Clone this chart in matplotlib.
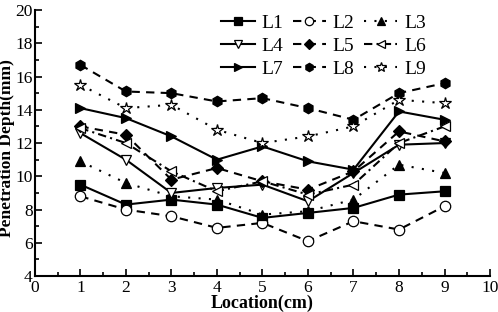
import matplotlib
matplotlib.use("Agg")
import matplotlib.pyplot as plt
from matplotlib.ticker import MultipleLocator

plt.rcParams["font.family"] = ["Liberation Serif", "DejaVu Serif"]

location = [1, 2, 3, 4, 5, 6, 7, 8, 9]

L1 = [9.5, 8.3, 8.6, 8.3, 7.5, 7.8, 8.1, 8.9, 9.1]
L2 = [8.8, 8.0, 7.6, 6.9, 7.2, 6.1, 7.3, 6.8, 8.2]
L3 = [10.9, 9.6, 8.8, 8.6, 7.7, 7.9, 8.6, 10.7, 10.2]
L4 = [12.6, 11.0, 9.0, 9.3, 9.5, 8.5, 10.2, 11.9, 12.0]
L5 = [13.0, 12.5, 9.8, 10.5, 9.7, 9.2, 10.3, 12.7, 12.1]
L6 = [12.9, 12.0, 10.3, 9.1, 9.7, 8.9, 9.5, 12.0, 13.0]
L7 = [14.1, 13.5, 12.4, 11.0, 11.8, 10.9, 10.4, 13.9, 13.4]
L8 = [16.7, 15.1, 15.0, 14.5, 14.7, 14.1, 13.4, 15.0, 15.6]
L9 = [15.5, 14.1, 14.3, 12.8, 12.0, 12.4, 13.0, 14.6, 14.4]

labels = ["L1", "L2", "L3", "L4", "L5", "L6", "L7", "L8", "L9"]
series = [L1, L2, L3, L4, L5, L6, L7, L8, L9]

# (linestyle, marker, filled)
styles = [
    ("-", "s", True),
    ((0, (4, 3)), "o", False),
    ((0, (1, 4)), "^", True),
    ("-", "v", False),
    ((0, (4, 3)), "D", True),
    ((0, (4, 2, 1, 2)), "<", False),
    ("-", ">", True),
    ((0, (4, 3)), "h", True),
    ((0, (1, 4)), "*", False),
]

fig = plt.figure(figsize=(4.98, 3.12), dpi=100)
ax = fig.add_axes([0.070, 0.115, 0.914, 0.853])

handles = {}
for lab, ys, (ls, mk, filled) in zip(labels, series, styles):
    ms = 9 if mk == "*" else (6 if mk == "D" else 7.5)
    h, = ax.plot(location, ys, linestyle=ls, color="black", lw=1.5,
                 marker=mk, markersize=ms,
                 markerfacecolor="black" if filled else "white",
                 markeredgecolor="black", markeredgewidth=0.9)
    handles[lab] = h

# legend fills column-wise, so reorder to get L1 L2 L3 across the first row
order = ["L1", "L4", "L7", "L2", "L5", "L8", "L3", "L6", "L9"]
ax.legend([handles[k] for k in order], order, ncol=3, frameon=False,
          loc="upper left", bbox_to_anchor=(0.41, 0.985), fontsize=14,
          markerscale=0.8, handlelength=1.7, handletextpad=0.35,
          columnspacing=0.5, labelspacing=0.28, borderpad=0,
          borderaxespad=0)

ax.set_xlim(0, 10)
ax.set_ylim(4, 20)
ax.xaxis.set_major_locator(MultipleLocator(1))
ax.xaxis.set_minor_locator(MultipleLocator(0.5))
ax.yaxis.set_major_locator(MultipleLocator(2))
ax.yaxis.set_minor_locator(MultipleLocator(1))
ax.tick_params(which="both", direction="in", top=False, right=False,
               labelsize=12.5, width=1.2)
ax.tick_params(which="major", length=5)
ax.tick_params(axis="x", which="major", pad=2.5)
ax.tick_params(axis="y", which="major", pad=1.5)
ax.tick_params(which="minor", length=3)
for side in ("top", "right"):
    ax.spines[side].set_visible(False)
for side in ("left", "bottom"):
    ax.spines[side].set_linewidth(1.5)

ax.set_xlabel("Location(cm)", fontsize=13, fontweight="bold", labelpad=-1)
ax.set_ylabel("Penetration Depth(mm)", fontsize=12.5, fontweight="bold")
ax.yaxis.set_label_coords(-0.043, 0.48)

fig.savefig("out.png", dpi=100)
